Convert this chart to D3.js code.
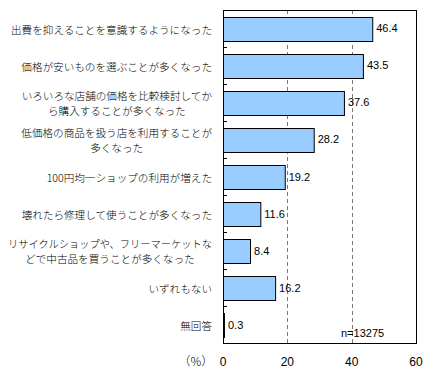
<!DOCTYPE html>
<html>
<head>
<meta charset="utf-8">
<script src="https://cdn.jsdelivr.net/npm/d3@7"></script>
<style>
  body { margin: 0; background: #fff; }
  text { font-family: "Noto Sans CJK JP", sans-serif; fill: #000; }
  .cat { font-weight: 300; }
  .num { font-family: "Liberation Sans", sans-serif; }
</style>
</head>
<body>
<div id="chart"></div>
<script>
// Data
const categories = [
  ["出費を抑えることを意識するようになった"],
  ["価格が安いものを選ぶことが多くなった"],
  ["いろいろな店舗の価格を比較検討してか", "ら購入することが多くなった"],
  ["低価格の商品を扱う店を利用することが", "多くなった"],
  ["100円均一ショップの利用が増えた"],
  ["壊れたら修理して使うことが多くなった"],
  ["リサイクルショップや、フリーマーケットな", "どで中古品を買うことが多くなった"],
  ["いずれもない"],
  ["無回答"]
];
const values = [46.4, 43.5, 37.6, 28.2, 19.2, 11.6, 8.4, 16.2, 0.3];
const ticks = [0, 20, 40, 60];
const note = "n=13275";

const width = 430, height = 376;
const margin = { top: 10, right: 14, bottom: 33, left: 223 };

const svg = d3.select("#chart").append("svg")
    .attr("width", width)
    .attr("height", height);

const x = d3.scaleLinear().domain([0, 60]).range([margin.left, width - margin.right]);
const y = d3.scaleBand()
    .domain(d3.range(values.length))
    .range([margin.top, height - margin.bottom])
    .paddingInner(0.365)
    .paddingOuter(0.18);

const step = y.step();
const bandTop = i => margin.top + i * step;

// dashed grid lines
svg.append("g").selectAll("line")
    .data(ticks.slice(1, -1))
    .join("line")
    .attr("x1", d => Math.round(x(d)) + 0.5)
    .attr("x2", d => Math.round(x(d)) + 0.5)
    .attr("y1", margin.top)
    .attr("y2", height - margin.bottom)
    .attr("stroke", "#777")
    .attr("stroke-dasharray", "4,3");

// bars
svg.append("g").selectAll("rect")
    .data(values)
    .join("rect")
    .attr("x", x(0) + 0.5)
    .attr("y", (d, i) => Math.round(y(i)) + 0.5)
    .attr("width", d => Math.max(0, x(d) - x(0)))
    .attr("height", Math.round(y.bandwidth()))
    .attr("fill", "#99ccff")
    .attr("stroke", "#000")
    .attr("stroke-width", 1);

// plot frame
svg.append("rect")
    .attr("x", margin.left + 0.5)
    .attr("y", margin.top + 0.5)
    .attr("width", x(60) - x(0))
    .attr("height", height - margin.bottom - margin.top)
    .attr("fill", "none")
    .attr("stroke", "#000");

// left tick marks at band boundaries
svg.append("g").selectAll("line")
    .data(d3.range(1, values.length))
    .join("line")
    .attr("x1", margin.left)
    .attr("x2", margin.left + 4)
    .attr("y1", i => Math.round(bandTop(i)) + 0.5)
    .attr("y2", i => Math.round(bandTop(i)) + 0.5)
    .attr("stroke", "#000");

// value labels
svg.append("g").selectAll("text")
    .data(values)
    .join("text")
    .attr("class", "num")
    .attr("x", d => x(d) + 4)
    .attr("y", (d, i) => y(i) + y.bandwidth() / 2 + 4)
    .attr("font-size", "11px")
    .text(d => d.toFixed(1));

// category labels
const labelRight = 212;
const maxW = 204;
const lab = svg.append("g");
function fit(sel) {
  const w = sel.node().getComputedTextLength();
  if (w > maxW) sel.attr("textLength", maxW).attr("lengthAdjust", "spacingAndGlyphs");
  return Math.min(w, maxW);
}
categories.forEach((lines, i) => {
  const cy = bandTop(i) + step / 2 + 1;
  if (lines.length === 1) {
    const t = lab.append("text")
      .attr("class", "cat")
      .attr("x", labelRight)
      .attr("y", cy + 4)
      .attr("text-anchor", "end")
      .attr("font-size", "10.6px")
      .text(lines[0]);
    fit(t);
  } else {
    const t1 = lab.append("text")
      .attr("class", "cat")
      .attr("text-anchor", "middle")
      .attr("font-size", "10.6px")
      .text(lines[0]);
    const w = fit(t1);
    const cx = labelRight - w / 2;
    t1.attr("x", cx).attr("y", cy - 3.5);
    lab.append("text")
      .attr("class", "cat")
      .attr("text-anchor", "middle")
      .attr("font-size", "10.6px")
      .attr("x", cx)
      .attr("y", cy + 11.5)
      .text(lines[1]);
  }
});

// x axis labels
svg.append("g").selectAll("text")
    .data(ticks)
    .join("text")
    .attr("class", "num")
    .attr("x", d => x(d))
    .attr("y", height - 10)
    .attr("text-anchor", "middle")
    .attr("font-size", "12px")
    .text(d => d);

svg.append("text")
    .attr("class", "cat")
    .attr("x", 196)
    .attr("y", height - 10)
    .attr("text-anchor", "middle")
    .attr("font-size", "12px")
    .text("（%）");

svg.append("text")
    .attr("class", "num")
    .attr("x", 341)
    .attr("y", height - margin.bottom - 6)
    .attr("font-size", "11px")
    .text(note);
</script>
</body>
</html>
